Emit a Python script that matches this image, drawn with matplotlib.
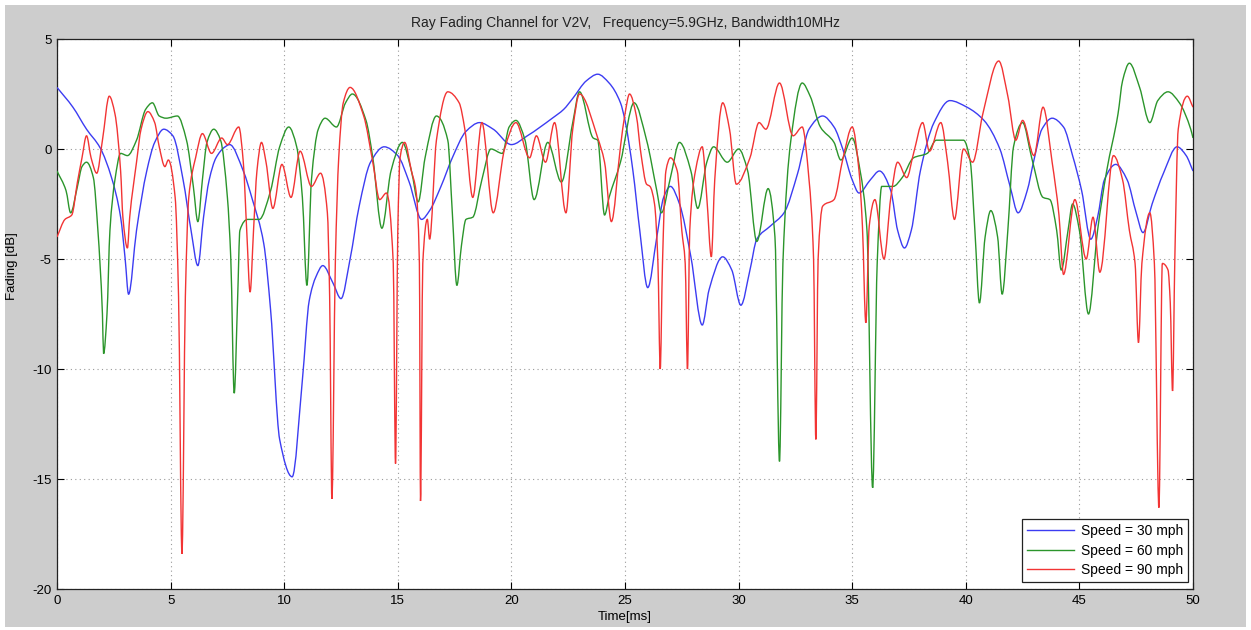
import numpy as np
import matplotlib
matplotlib.use("Agg")
import matplotlib.pyplot as plt
from matplotlib.path import Path
from matplotlib.patches import PathPatch, Rectangle
from matplotlib.lines import Line2D

plt.rcParams["font.family"] = ["Liberation Sans", "DejaVu Sans"]
plt.rcParams["axes.unicode_minus"] = False

# ---------------- data: fading level [dB] versus time [ms] ----------------
t_30 = [0.0, 0.7, 1.3, 1.9, 2.4, 2.8, 3.0, 3.15, 3.5, 3.95, 4.3, 4.7, 5.1, 5.55, 5.9,
        6.2, 6.45, 6.7, 7.0, 7.4, 7.6, 8.2, 8.6, 9.1, 9.4, 9.8, 10.35, 10.8, 11.1,
        11.4, 11.7, 12.15, 12.5, 12.9, 13.3, 13.8, 14.4, 15.0, 15.5, 16.05, 16.4,
        16.9, 17.4, 18.0, 18.6, 19.2, 20.0, 20.7, 21.8, 22.3, 22.7, 23.3, 23.8,
        24.3, 24.8, 25.0, 25.35, 25.65, 26.0, 26.4, 26.7, 27.0, 27.4, 27.9, 28.4,
        28.7, 29.3, 29.7, 30.1, 30.5, 30.8, 31.4, 32.0, 32.6, 33.1, 33.7, 34.2,
        34.6, 35.0, 35.3, 35.8, 36.2, 36.7, 37.0, 37.3, 37.6, 38.0, 38.6, 39.3,
        40.05, 40.8, 41.5, 41.95, 42.3, 42.7, 43.0, 43.35, 43.8, 44.3, 44.7, 45.1,
        45.5, 45.8, 46.1, 46.6, 47.1, 47.5, 47.8, 48.2, 48.7, 49.3, 49.7, 50.0]
fade_30 = [2.8, 1.9, 0.9, 0.05, -1.3, -3.1, -5.0, -6.6, -3.7, -1.0, 0.3, 0.9, 0.6, -1.4, -3.7,
           -5.3, -3.1, -1.4, -0.4, 0.1, 0.2, -1.0, -2.3, -4.3, -7.3, -13.2, -14.9, -10.5, -6.9,
           -5.8, -5.3, -6.1, -6.8, -5.0, -2.6, -0.6, 0.1, -0.3, -1.5, -3.2, -2.8,
           -1.7, -0.4, 0.8, 1.2, 0.9, 0.2, 0.6, 1.4, 1.8, 2.3, 3.1, 3.4,
           3.0, 2.1, 1.3, -1.0, -3.7, -6.3, -4.0, -2.2, -1.7, -2.5, -4.9, -8.0,
           -6.4, -4.9, -5.5, -7.1, -5.5, -4.1, -3.5, -2.9, -1.1, 0.9, 1.5, 1.0,
           -0.05, -1.4, -2.0, -1.4, -1.0, -1.9, -3.7, -4.5, -3.7, -1.0, 1.2, 2.2,
           1.9, 1.3, 0.0, -1.7, -2.9, -1.9, -0.5, 0.9, 1.4, 1.0, -0.3, -1.9,
           -4.1, -3.1, -1.4, -0.7, -1.4, -2.9, -3.8, -2.5, -1.1, 0.1, -0.3, -1.0]

t_60 = [0.0, 0.4, 0.6, 0.9, 1.1, 1.3, 1.6, 1.8, 2.0, 2.05, 2.2, 2.33, 2.55, 2.8, 3.1,
        3.5, 3.9, 4.2, 4.5, 4.8, 5.3, 5.7, 6.0, 6.2, 6.4, 6.6, 6.9, 7.2, 7.5, 7.65,
        7.8, 7.95, 8.05, 8.4, 8.9, 9.4, 9.8, 10.2, 10.55, 10.8, 11.0, 11.2, 11.5,
        11.8, 12.3, 12.7, 13.0, 13.6, 13.9, 14.3, 14.7, 15.2, 15.6, 15.9, 16.2,
        16.7, 17.2, 17.4, 17.6, 17.8, 18.0, 18.3, 18.7, 19.1, 19.6, 19.9, 20.2,
        20.6, 21.0, 21.6, 22.2, 22.7, 23.0, 23.6, 23.8, 24.1, 24.3, 24.8, 25.4,
        25.95, 26.4, 26.6, 27.0, 27.4, 27.9, 28.2, 28.6, 28.9, 29.5, 30.0, 30.4,
        30.8, 31.3, 31.6, 31.8, 31.95, 32.3, 32.8, 33.15, 33.6, 34.2, 34.5, 35.0,
        35.35, 35.65, 35.9, 36.1, 36.3, 36.8, 37.2, 37.7, 38.3, 38.7, 39.9, 40.2,
        40.4, 40.6, 40.85, 41.1, 41.4, 41.6, 41.85, 42.1, 42.5, 42.9, 43.4, 43.7,
        44.0, 44.2, 44.5, 44.7, 45.0, 45.4, 45.8, 46.2, 46.7, 46.9, 47.2, 47.65,
        48.1, 48.45, 48.9, 49.4, 49.9, 50.0]
fade_60 = [-1.0, -1.9, -2.9, -1.7, -0.8, -0.6, -1.3, -3.7, -7.5, -9.3, -7.5, -3.7, -1.4, -0.2, -0.3,
           0.4, 1.8, 2.1, 1.5, 1.4, 1.5, 0.4, -1.7, -3.3, -1.4, 0.3, 0.9, 0.4, -2.2, -5.0,
           -11.1, -6.8, -3.7, -3.2, -3.2, -1.9, 0.1, 1.0, 0.1, -2.2, -6.2, -1.4, 0.9,
           1.4, 1.0, 2.1, 2.5, 1.3, -0.4, -3.6, -1.0, 0.3, -1.0, -2.4, -0.4,
           1.5, 0.4, -2.9, -6.2, -4.4, -3.2, -3.1, -1.4, 0.0, -0.2, 1.0, 1.3,
           0.4, -2.3, 0.3, -1.5, 1.2, 2.6, 0.5, 0.4, -3.0, -2.2, -0.6, 2.1,
           0.4, -1.9, -2.9, -1.3, 0.3, -1.0, -2.7, -0.6, 0.1, -0.6, 0.0, -1.0,
           -4.2, -1.8, -4.0, -14.2, -5.2, 0.4, 3.0, 2.4, 1.0, 0.3, -0.5, 0.5,
           -1.0, -3.7, -15.4, -5.2, -1.7, -1.7, -1.3, -0.4, -0.2, 0.4, 0.4, -0.6,
           -3.7, -7.0, -4.0, -2.8, -4.0, -6.6, -3.7, 0.1, 1.2, -0.4, -2.2, -2.3,
           -3.7, -5.5, -3.7, -2.5, -3.7, -7.5, -3.7, -1.0, 1.6, 3.1, 3.9, 2.8,
           1.2, 2.2, 2.6, 2.1, 0.9, 0.5]

t_90 = [0.0, 0.35, 0.65, 0.9, 1.1, 1.3, 1.5, 1.75, 2.0, 2.3, 2.55, 2.8, 2.9, 3.1, 3.2,
        3.5, 3.7, 4.0, 4.3, 4.5, 4.75, 4.9, 5.2, 5.35, 5.5, 5.65, 5.8, 6.1, 6.4, 6.8,
        7.25, 7.5, 8.0, 8.2, 8.35, 8.5, 8.65, 8.8, 9.0, 9.2, 9.5, 9.9, 10.3, 10.7,
        11.2, 11.6, 11.9, 12.0, 12.1, 12.25, 12.4, 12.6, 12.9, 13.5, 13.9, 14.2,
        14.5, 14.8, 14.9, 15.0, 15.1, 15.3, 15.6, 15.8, 15.95, 16.0, 16.1, 16.3,
        16.4, 16.7, 17.2, 17.7, 17.95, 18.3, 18.7, 19.2, 19.7, 20.2, 20.8, 21.1,
        21.5, 21.9, 22.4, 22.7, 23.0, 23.8, 24.1, 24.4, 24.8, 25.0, 25.2, 25.5,
        25.7, 25.95, 26.1, 26.3, 26.45, 26.55, 26.65, 26.8, 27.0, 27.3, 27.5,
        27.65, 27.75, 27.85, 28.1, 28.4, 28.6, 28.8, 28.95, 29.3, 29.6, 29.9,
        30.5, 30.9, 31.2, 31.8, 32.4, 32.8, 33.1, 33.3, 33.4, 33.5, 33.7, 34.2,
        34.6, 35.0, 35.3, 35.45, 35.6, 35.75, 36.0, 36.4, 36.7, 37.0, 37.4, 37.7,
        38.1, 38.4, 38.9, 39.2, 39.5, 39.9, 40.3, 40.75, 41.45, 41.85, 42.2, 42.5,
        43.0, 43.4, 43.8, 44.1, 44.3, 44.8, 45.3, 45.6, 45.9, 46.5, 46.9, 47.2,
        47.45, 47.6, 47.75, 48.1, 48.3, 48.5, 48.65, 48.9, 49.0, 49.1, 49.2, 49.35,
        49.75, 50.0]
fade_90 = [-4.0, -3.2, -3.0, -1.5, -0.4, 0.6, -0.4, -1.1, 0.4, 2.4, 1.6, -1.0, -3.1, -4.5, -3.1,
           -0.6, 0.9, 1.7, 1.2, 0.1, -0.8, -0.5, -2.2, -6.7, -18.4, -6.7, -2.2, -0.4, 0.7, -0.2,
           0.5, 0.2, 1.0, -0.6, -3.7, -6.5, -3.7, -1.0, 0.3, -0.6, -2.7, -0.7, -2.2, -0.1,
           -1.7, -1.1, -2.9, -6.7, -15.9, -5.2, -0.4, 2.1, 2.8, 1.5, -0.6, -2.3,
           -2.0, -5.2, -14.3, -3.7, -0.4, 0.3, -1.0, -1.9, -5.2, -16.0, -5.2, -3.2,
           -4.1, 0.4, 2.6, 2.1, 0.9, -2.2, 1.2, -2.9, 0.0, 1.2, -0.4, 0.6,
           -0.6, 1.2, -2.9, 0.9, 2.5, 0.5, -0.6, -3.3, 0.1, 1.6, 2.5, 1.5,
           -0.2, -1.6, -1.7, -2.5, -5.2, -10.0, -5.2, -1.0, -0.4, -1.0, -3.7,
           -5.2, -10.0, -3.7, -1.0, 0.1, -2.2, -4.9, -1.4, 2.1, 0.9, -1.6,
           -0.4, 1.2, 0.9, 3.0, 0.6, 1.0, -1.4, -5.0, -13.2, -5.0, -2.6, -2.3,
           -0.4, 1.0, -1.0, -3.5, -7.9, -3.5, -2.3, -5.0, -2.2, -0.6, -1.3, -0.2,
           1.2, -0.1, 1.2, -0.6, -3.2, 0.0, -0.6, 1.6, 4.0, 2.4, 0.4, 1.3,
           -0.3, 1.9, -0.6, -3.0, -5.7, -2.3, -5.0, -3.1, -5.6, -0.3, -1.4, -3.7,
           -5.2, -8.8, -5.2, -2.9, -5.2, -16.3, -5.2, -5.5, -7.0, -11.0, -5.0, 0.9,
           2.4, 1.9]

series_labels = ["Speed = 30 mph", "Speed = 60 mph", "Speed = 90 mph"]
series_colors = ["#3c3cf2", "#2b952b", "#f23434"]

x_ticks = [0, 5, 10, 15, 20, 25, 30, 35, 40, 45, 50]
y_ticks = [5, 0, -5, -10, -15, -20]


def smooth_path(x, y):
    """Monotone cubic (PCHIP) Bezier path through the samples, in data units."""
    x = np.asarray(x, float)
    y = np.asarray(y, float)
    h = np.diff(x)
    d = np.diff(y) / h
    m = np.zeros_like(x)
    for k in range(1, len(x) - 1):
        if d[k - 1] * d[k] > 0:
            w1 = 2 * h[k] + h[k - 1]
            w2 = h[k] + 2 * h[k - 1]
            m[k] = (w1 + w2) / (w1 / d[k - 1] + w2 / d[k])
    m[0], m[-1] = d[0], d[-1]
    verts = [(x[0], y[0])]
    codes = [Path.MOVETO]
    for k in range(len(x) - 1):
        verts += [(x[k] + h[k] / 3, y[k] + m[k] * h[k] / 3),
                  (x[k + 1] - h[k] / 3, y[k + 1] - m[k + 1] * h[k] / 3),
                  (x[k + 1], y[k + 1])]
        codes += [Path.CURVE4] * 3
    return Path(verts, codes)


W, H = 1251, 630
fig = plt.figure(figsize=(W / 100, H / 100), dpi=100, facecolor="white")
fig.patches.append(Rectangle((5 / W, 3 / H), 1241 / W, 622 / H, transform=fig.transFigure,
                             facecolor="#cdcdcd", edgecolor="none", zorder=-10))

ax = fig.add_axes([57 / W, 1 - 589 / H, 1136 / W, 550 / H])
ax.set_facecolor("white")

handles = []
for t, v, col, lab in zip([t_30, t_60, t_90], [fade_30, fade_60, fade_90],
                          series_colors, series_labels):
    ax.add_patch(PathPatch(smooth_path(t, v), facecolor="none", edgecolor=col,
                           linewidth=1.0, transform=ax.transData, zorder=3))
    handles.append(Line2D([], [], color=col, linewidth=1.0, label=lab))

ax.set_xlim(0, 50)
ax.set_ylim(-20, 5)
ax.set_xticks(x_ticks)
ax.set_yticks(y_ticks)
ax.grid(True, linestyle=(0, (1, 3)), color="#9a9a9a", linewidth=0.8)
ax.tick_params(direction="in", length=5, width=0.8, top=True, right=True,
               labelsize=9.5, pad=4, colors="black")
for s in ax.spines.values():
    s.set_linewidth(0.9)
    s.set_color("#222222")

ax.set_title("Ray Fading Channel for V2V,   Frequency=5.9GHz, Bandwidth10MHz",
             fontsize=10, pad=9, color="#222222")
ax.set_xlabel("Time[ms]", fontsize=9.5, labelpad=3)
ax.set_ylabel("Fading [dB]", fontsize=9.5, labelpad=8)
ax.yaxis.set_label_coords(-0.034, 0.587)

leg = ax.legend(handles=handles, loc="lower right", bbox_to_anchor=(0.9956, 0.0127),
                borderaxespad=0, fontsize=10, handlelength=3.4, handletextpad=0.5,
                labelspacing=0.4, borderpad=0.35, fancybox=False, framealpha=1,
                edgecolor="#222222")
leg.get_frame().set_linewidth(0.9)

fig.savefig("out.png", dpi=100, facecolor=fig.get_facecolor())
